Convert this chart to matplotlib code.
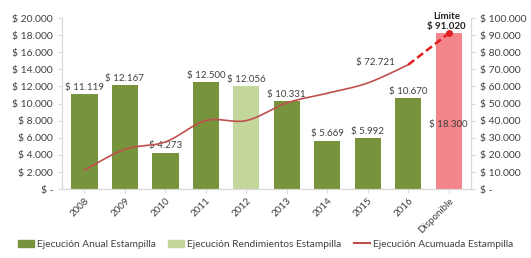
import numpy as np
import matplotlib
matplotlib.use("Agg")
import matplotlib.pyplot as plt
from matplotlib.lines import Line2D
from matplotlib.patches import Patch

categories = ["2008", "2009", "2010", "2011", "2012", "2013", "2014", "2015", "2016", "Disponible"]
anual = [11119, 12167, 4273, 12500, None, 10331, 5669, 5992, 10670, None]
rendimientos = [None, None, None, None, 12056, None, None, None, None, None]
disponible = [None] * 9 + [18300]
acumulada = [11119, 23286, 27559, 40059, 40059, 50390, 56059, 62051, 72721]
limite = 91020

plt.rcParams['font.family'] = ['Lato', 'DejaVu Sans']

def fmt(v):
    if v == 0:
        return "$ -"
    return "$ " + f"{int(v):,}".replace(",", ".")

fig = plt.figure(figsize=(5.31, 2.58), dpi=100)
ax = fig.add_axes([0.117, 0.267, 0.770, 0.663])
ax2 = ax.twinx()

x = np.arange(len(categories))
w = 0.65
dark = "#77933C"
light = "#C3D69B"
pink = "#F4858A"
red = "#C0504D"
txt = "#404040"
fs = 7

for i, v in enumerate(anual):
    if v is not None:
        ax.bar(x[i], v, w, color=dark, zorder=2)
        ax.text(x[i], v + 250, fmt(v), ha="center", va="bottom", fontsize=fs, color=txt, zorder=5)
for i, v in enumerate(rendimientos):
    if v is not None:
        ax.bar(x[i], v, w, color=light, zorder=2)
        ax.text(x[i], v + 250, fmt(v), ha="center", va="bottom", fontsize=fs, color=txt, zorder=5)
for i, v in enumerate(disponible):
    if v is not None:
        ax.bar(x[i], v, w, color=pink, zorder=2)
        ax.text(x[i], 7500, fmt(v), ha="center", va="center", fontsize=fs, color=txt, zorder=5)

# smooth cumulative line (Catmull-Rom through data points)
px = x[:len(acumulada)].astype(float)
py = np.array(acumulada, dtype=float)
sx, sy = [], []
for k in range(len(px) - 1):
    p0 = k - 1 if k > 0 else k
    p3 = k + 2 if k + 2 < len(px) else k + 1
    t = np.linspace(0, 1, 20)
    for arr, out in ((px, sx), (py, sy)):
        P0, P1, P2, P3 = arr[p0], arr[k], arr[k + 1], arr[p3]
        m1 = (P2 - P0) / 2
        m2 = (P3 - P1) / 2
        h00 = 2 * t**3 - 3 * t**2 + 1
        h10 = t**3 - 2 * t**2 + t
        h01 = -2 * t**3 + 3 * t**2
        h11 = t**3 - t**2
        out.extend(h00 * P1 + h10 * m1 + h01 * P2 + h11 * m2)
ax2.plot(sx, sy, color=red, lw=1.2, zorder=4)
ax2.plot([x[8], x[9]], [acumulada[-1], limite], color="#E02020", lw=1.8, ls=(0, (3, 1.5)), zorder=4)
ax2.plot([x[9]], [limite], "o", color="#E02020", ms=4, zorder=5)
ax2.text(x[8] - 0.8, acumulada[-1] - 1500, fmt(acumulada[-1]), ha="center", va="bottom", fontsize=fs, color=txt)
ax2.text(x[9] - 0.05, limite + 1500, "Límite\n" + fmt(limite), ha="center", va="bottom", fontsize=fs,
         fontweight="bold", color="#202020", linespacing=1.1)

ax.set_ylim(0, 20000)
ax2.set_ylim(0, 100000)
ax.set_yticks(np.arange(0, 20001, 2000))
ax.set_yticklabels([fmt(v) for v in np.arange(0, 20001, 2000)])
ax2.set_yticks(np.arange(0, 100001, 10000))
ax2.set_yticklabels([fmt(v) for v in np.arange(0, 100001, 10000)])
ax.set_xlim(-0.55, 9.55)
ax.set_xticks(x)
ax.set_xticklabels(categories, rotation=45, ha="right", rotation_mode="anchor", fontsize=fs, color=txt)

for a in (ax, ax2):
    a.spines["top"].set_visible(False)
    a.spines["left"].set_color("#D9D9D9")
    a.spines["right"].set_color("#D9D9D9")
    a.spines["bottom"].set_color("#D9D9D9")
    a.tick_params(axis="y", labelsize=7.5, colors=txt, length=3, color="#D9D9D9")
ax.tick_params(axis="x", length=3, color="#D9D9D9", pad=2)

handles = [Patch(color=dark), Patch(color=light), Line2D([], [], color=red, lw=1.5)]
labels = ["Ejecución Anual Estampilla", "Ejecución Rendimientos Estampilla", "Ejecución Acumuada Estampilla"]
fig.legend(handles, labels, loc="lower center", ncol=3, frameon=False, fontsize=7.3,
           bbox_to_anchor=(0.5, 0.0), handlelength=1.6, handleheight=0.6, columnspacing=1.2,
           handletextpad=0.3, labelcolor=txt)

fig.savefig("out.png", dpi=100)
